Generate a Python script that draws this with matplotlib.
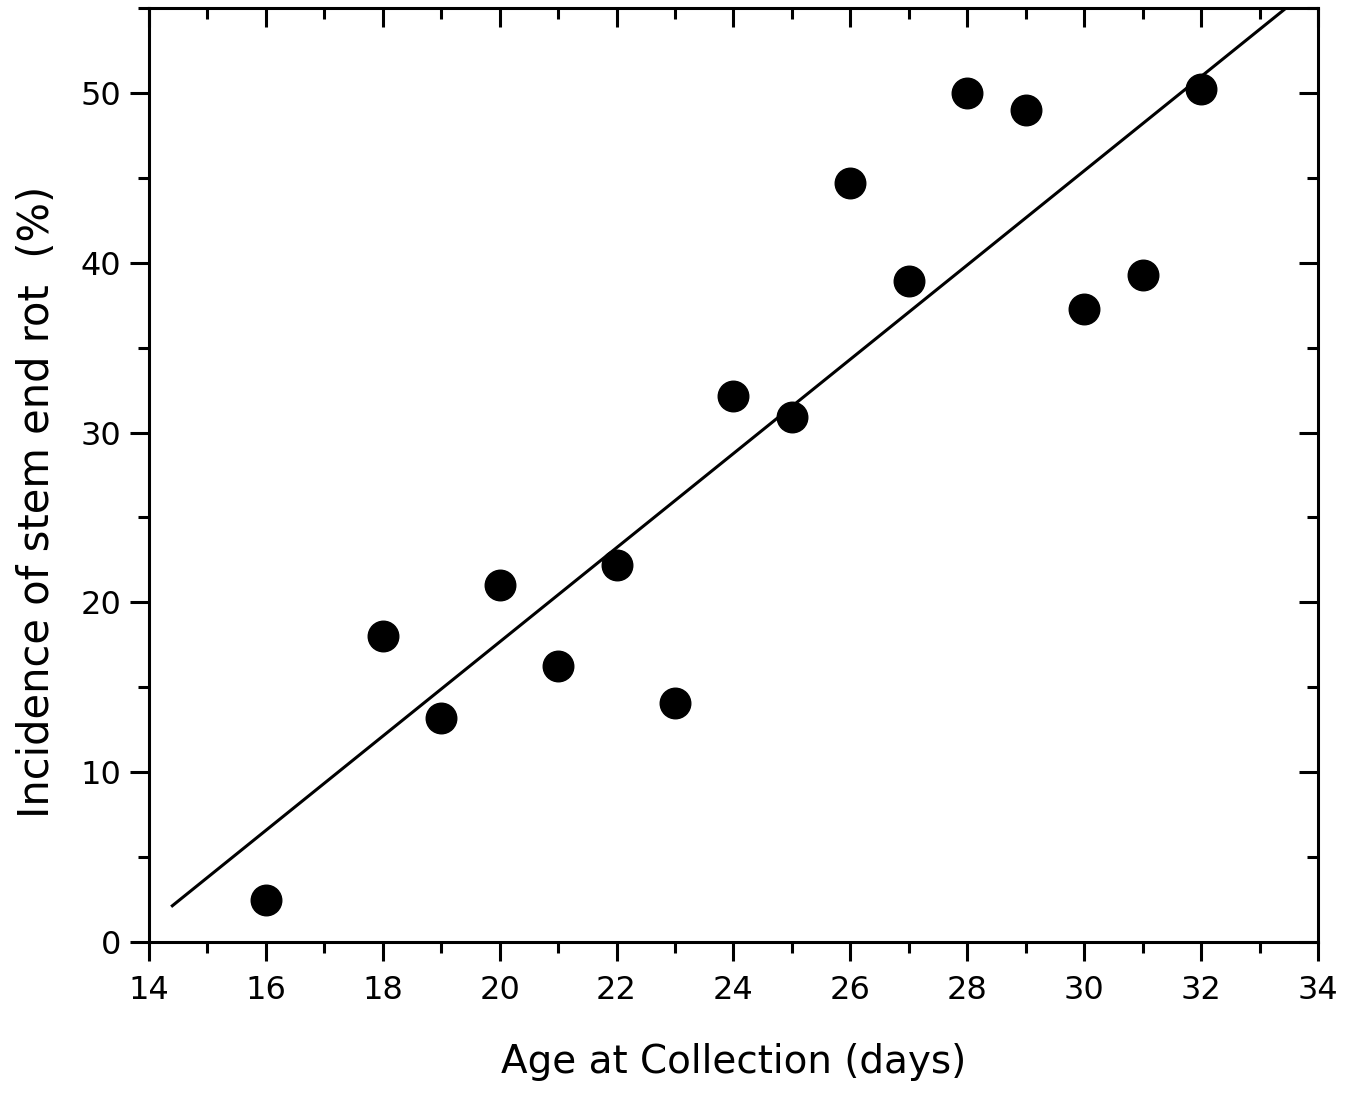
import numpy as np
import matplotlib
matplotlib.use('Agg')
import matplotlib.pyplot as plt
from matplotlib.ticker import MultipleLocator

age_days = [16, 18, 19, 20, 21, 22, 23, 24, 25, 26, 27, 28, 29, 30, 31, 32]
incidence = [2.5, 18.0, 13.2, 21.0, 16.25, 22.2, 14.1, 32.15, 30.9, 44.7, 38.9, 50.0, 49.0, 37.3, 39.3, 50.2]

# regression line drawn from its start to past the top of the plot
fit_start, fit_end = 14.4, 34

slope, intercept = np.polyfit(age_days, incidence, 1)

fig = plt.figure(figsize=(13.53, 10.93), dpi=100)
ax = fig.add_axes([0.1101, 0.1381, 0.8640, 0.8546])

fx = np.array([fit_start, fit_end])
ax.plot(fx, slope * fx + intercept, color='black', lw=2.2)
ax.plot(age_days, incidence, 'o', color='black', markersize=22)

ax.set_xlim(14, 34)
ax.set_ylim(0, 55)
ax.xaxis.set_major_locator(MultipleLocator(2))
ax.xaxis.set_minor_locator(MultipleLocator(1))
ax.yaxis.set_major_locator(MultipleLocator(10))
ax.yaxis.set_minor_locator(MultipleLocator(5))

for s in ax.spines.values():
    s.set_linewidth(2.2)

ax.tick_params(which='both', direction='out', width=2.2, labelsize=23)
ax.tick_params(axis='x', pad=10)
ax.tick_params(axis='y', pad=6)
ax.tick_params(which='major', length=14)
ax.tick_params(which='minor', length=8)
# ticks on the top and right point inward
ax2 = ax.secondary_xaxis('top')
ax2.xaxis.set_major_locator(MultipleLocator(2))
ax2.xaxis.set_minor_locator(MultipleLocator(1))
ax2.tick_params(which='both', direction='in', width=2.2, labeltop=False)
ax2.tick_params(which='major', length=14)
ax2.tick_params(which='minor', length=8)
ax2.spines['top'].set_visible(False)
ay2 = ax.secondary_yaxis('right')
ay2.yaxis.set_major_locator(MultipleLocator(10))
ay2.yaxis.set_minor_locator(MultipleLocator(5))
ay2.tick_params(which='both', direction='in', width=2.2, labelright=False)
ay2.tick_params(which='major', length=14)
ay2.tick_params(which='minor', length=8)
ay2.spines['right'].set_visible(False)

ax.set_xlabel('Age at Collection (days)', fontsize=28)
ax.xaxis.set_label_coords(0.5, -0.108)
ax.set_ylabel('Incidence of stem end rot  (%)', fontsize=30)
ax.yaxis.set_label_coords(-0.078, 0.471)

fig.savefig('out.png', dpi=100)
